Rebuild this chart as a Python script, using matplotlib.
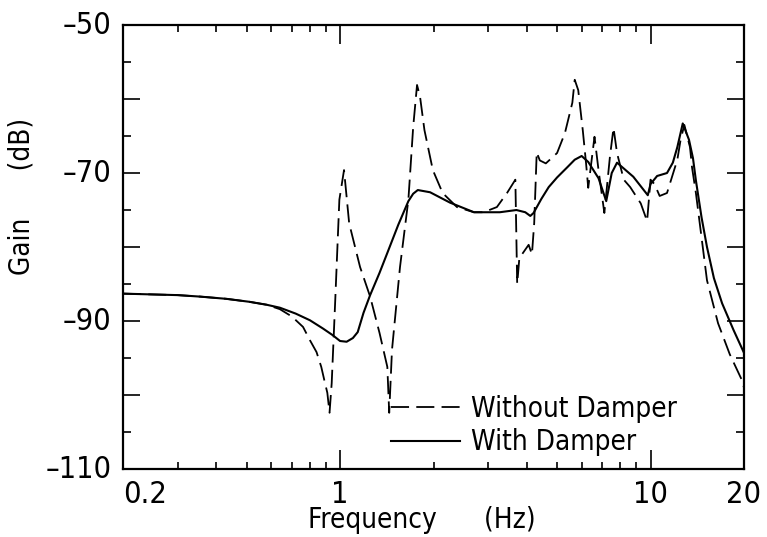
import matplotlib.pyplot as plt
from matplotlib.ticker import FixedLocator, NullFormatter

# --- data (frequency in Hz, gain in dB) ---
freq_with = [0.2, 0.3, 0.354, 0.43, 0.51, 0.58, 0.64, 0.72, 0.8, 0.88, 0.946, 1.0,
             1.05, 1.1, 1.14, 1.19, 1.25, 1.34, 1.42, 1.54, 1.66, 1.72, 1.78, 1.95, 2.26, 2.7, 3.27,
             3.7, 3.95, 4.1, 4.2, 4.45, 4.7, 5.0, 5.4, 5.7, 6.0, 6.3, 6.8, 7.2, 7.5, 7.8, 8.8, 9.8,
             10.0, 10.5, 11.3, 11.8, 12.2, 12.7, 13.3, 13.7, 14.0, 14.6, 15.2, 16.0, 17.0, 18.5, 20.0]
gain_with = [-86.3, -86.5, -86.7, -87.0, -87.4, -87.8, -88.2, -89.0, -89.9, -91.0, -91.9, -92.7,
             -92.8, -92.3, -91.5, -88.9, -86.5, -83.5, -80.8, -77.0, -73.8, -72.8, -72.3, -72.6, -74.0, -75.3, -75.3,
             -75.0, -75.3, -75.8, -75.4, -73.5, -71.9, -70.6, -69.2, -68.2, -67.7, -68.5, -70.7, -73.8, -70.0, -68.6, -70.5, -73.0,
             -71.5, -70.4, -70.0, -68.6, -66.5, -63.3, -65.5, -68.0, -71.0, -76.0, -80.0, -84.2, -87.6, -91.2, -94.3]

freq_without = [0.2, 0.3, 0.354, 0.43, 0.51, 0.58, 0.64, 0.7, 0.76, 0.8, 0.84, 0.87, 0.89,
                0.91, 0.925, 0.94, 0.965, 0.995, 1.03, 1.07, 1.16, 1.25, 1.34, 1.42, 1.44,
                1.47, 1.56, 1.66, 1.72, 1.77, 1.81, 1.87, 1.99, 2.14, 2.38, 2.7, 2.9, 3.2,
                3.45, 3.67, 3.72, 3.78, 4.05, 4.15, 4.22, 4.3, 4.4, 4.6, 5.0, 5.3, 5.6,
                5.7, 5.85, 6.05, 6.2, 6.3, 6.6, 6.8, 7.1, 7.4, 7.6, 7.8, 8.2, 8.6, 9.3,
                9.75, 10.0, 10.3, 10.7, 11.3, 12.2, 12.5, 12.85, 13.4, 13.6, 14.0, 15.2,
                16.5, 18.0, 19.7, 20.0]
gain_without = [-86.3, -86.5, -86.7, -87.0, -87.4, -87.8, -88.4, -89.4, -90.8, -92.6, -94.2, -96.2, -98.0,
                -99.7, -102.4, -98.4, -87.2, -73.6, -69.6, -76.8, -82.7, -86.7, -91.6, -96.2, -102.4,
                -93.9, -82.7, -73.6, -63.8, -58.1, -59.7, -64.2, -69.6, -72.7, -74.6, -75.3, -75.3, -74.6,
                -72.7, -70.9, -85.0, -81.5, -79.7, -81.0, -76.8, -67.2, -68.3, -68.7, -67.3, -64.6, -60.5,
                -57.4, -58.8, -64.2, -68.7, -72.0, -65.1, -69.6, -75.4, -67.8, -63.9, -67.3, -70.9, -71.9, -74.1,
                -76.5, -70.9, -71.5, -73.1, -72.7, -68.2, -65.5, -63.5, -66.5, -69.2, -72.7, -84.5,
                -90.3, -94.5, -98.0, -99.0]

ytick_vals = [-50, -70, -90, -110]
xtick_vals = [0.2, 1, 10, 20]
xtick_labels = ['0.2', '1', '10', '20']

plt.rcParams['font.family'] = ['DejaVu Sans']
plt.rcParams['font.stretch'] = 'condensed'

fig = plt.figure(figsize=(7.67, 5.37), dpi=100)
ax = fig.add_axes([0.1604, 0.1266, 0.8096, 0.8268])

ax.plot(freq_without, gain_without, color='black', lw=1.3, dashes=(10, 4),
        label='Without Damper')
ax.plot(freq_with, gain_with, color='black', lw=1.5, label='With Damper')

ax.set_xscale('log')
ax.set_xlim(0.2, 20)
ax.set_ylim(-110, -50)

# ticks: inside on all four sides
ax.xaxis.set_major_locator(FixedLocator([1, 10]))
ax.xaxis.set_minor_locator(FixedLocator([0.3, 0.4, 0.5, 0.6, 0.7, 0.8, 0.9,
                                         2, 3, 4, 5, 6, 7, 8, 9]))
ax.xaxis.set_major_formatter(NullFormatter())
ax.xaxis.set_minor_formatter(NullFormatter())
ax.yaxis.set_major_locator(FixedLocator(range(-110, -49, 10)))
ax.yaxis.set_minor_locator(FixedLocator(range(-105, -50, 10)))
ax.yaxis.set_major_formatter(NullFormatter())
ax.tick_params(which='both', direction='in', top=True, right=True, width=1.2)
ax.tick_params(which='major', axis='x', length=14)
ax.tick_params(which='minor', axis='x', length=5)
ax.tick_params(which='major', axis='y', length=12)
ax.tick_params(which='minor', axis='y', length=6)
for s in ax.spines.values():
    s.set_linewidth(1.6)

# tick labels placed by hand like the original
lab_kw = dict(fontsize=22, color='black', transform=ax.get_xaxis_transform())
for v, t in zip(xtick_vals, xtick_labels):
    ha = 'left' if v == 0.2 else 'center'
    ax.text(v, -0.025, t, ha=ha, va='top', **lab_kw)
for v in ytick_vals:
    ax.text(-0.018, v, str(v).replace('-', '\u2013'), ha='right', va='center',
            fontsize=22, transform=ax.get_yaxis_transform())

# axis titles
fig.text(0.55, 0.005, 'Frequency      (Hz)', fontsize=20, ha='center', va='bottom')
fig.text(0.01, 0.635, 'Gain      (dB)', fontsize=20, rotation=90,
         ha='left', va='center')

ax.legend(loc='lower left', bbox_to_anchor=(0.4, -0.015), frameon=False,
          fontsize=20, handlelength=2.5, handletextpad=0.4, labelspacing=0.2,
          borderpad=0.2)

fig.savefig('out.png', dpi=100)
